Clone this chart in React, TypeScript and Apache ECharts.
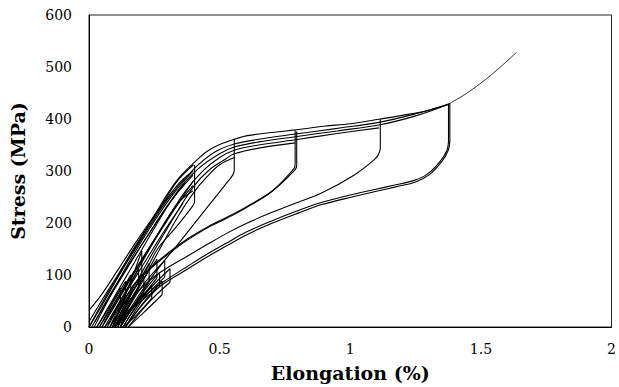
import React, { useEffect, useRef } from "react";
import * as echarts from "echarts";

// x = elongation (%), y = stress (MPa)
const xTicks = [0, 0.5, 1, 1.5, 2];
const yTicks = [0, 100, 200, 300, 400, 500, 600];

const envelope = [[0,32],[0.04,57],[0.076,83],[0.13,125],[0.19,171],[0.25,215],[0.303,258],[0.35,290],[0.404,317],[0.45,337],[0.5,351],[0.556,361],[0.606,368],[0.7,374],[0.79,379],[0.9,386],[1.0,391],[1.115,400],[1.2,407],[1.3,417],[1.381,430]];
const finalTail = [[1.381,430],[1.45,451],[1.54,485],[1.636,528]];
const firstLoad = [[0,0],[0.05,42],[0.1,86],[0.16,138],[0.22,188],[0.28,236],[0.34,282],[0.4,312]];

const reloadA = [[0,0],[0.06,55],[0.12,105],[0.2,168],[0.3,245],[0.4,303],[0.48,336],[0.556,352],[0.65,361],[0.79,371],[0.95,382],[1.115,394],[1.25,410],[1.38,429]];
const reloadB = [[0.03,0],[0.09,52],[0.16,112],[0.25,190],[0.34,262],[0.42,305],[0.5,333],[0.556,346],[0.65,356],[0.79,366],[0.95,377],[1.115,389],[1.25,406],[1.375,428]];
const reloadC = [[0.06,0],[0.13,60],[0.2,122],[0.29,200],[0.37,262],[0.44,302],[0.5,326],[0.556,340],[0.65,350],[0.79,360],[0.95,372],[1.11,383]];
const reloadD = [[0.08,0],[0.15,58],[0.23,130],[0.32,207],[0.4,270],[0.46,302],[0.52,322],[0.556,333],[0.65,344],[0.789,354]];
const reloadE = [[0.1,0],[0.18,65],[0.26,140],[0.34,212],[0.4,258],[0.45,288],[0.5,312],[0.556,326]];
const reloadF = [[0.01,0],[0.07,50],[0.14,108],[0.22,172],[0.31,240],[0.398,292]];
const reloadG = [[0.04,0],[0.1,48],[0.17,105],[0.25,168],[0.33,230],[0.398,272]];
const reloadH = [[0.02,0],[0.08,58],[0.15,122],[0.23,188],[0.32,254],[0.398,300]];
const reloadI = [[0.05,0],[0.11,50],[0.18,110],[0.26,176],[0.34,238],[0.398,262]];
const reloadJ = [[0,10],[0.05,52],[0.11,100],[0.18,158],[0.26,220],[0.34,274],[0.398,300]];
const reloadK = [[0.02,8],[0.08,62],[0.15,118],[0.22,172],[0.3,232],[0.37,280]];
const reloadL = [[0.06,10],[0.12,62],[0.19,118],[0.27,182],[0.35,244],[0.398,280]];
const reloadM = [[0.08,15],[0.14,65],[0.21,122],[0.29,186],[0.36,238]];

const unload02 = [[0.09,0],[0.14,62],[0.202,146],[0.202,102],[0.19,88],[0.15,51],[0.125,20],[0.11,0]];
const unload04 = [[0.404,311],[0.404,240],[0.396,232],[0.33,190],[0.265,152],[0.23,120],[0.2,90],[0.164,51],[0.13,15],[0.12,0]];
const unload055 = [[0.556,362],[0.556,300],[0.55,292],[0.53,279],[0.47,241],[0.4,197],[0.34,159],[0.278,121],[0.22,82],[0.17,45],[0.13,12],[0.12,0]];
const unload08a = [[0.789,378],[0.789,314],[0.785,305],[0.698,260],[0.6,229],[0.53,210],[0.45,190],[0.379,168],[0.316,145],[0.253,120],[0.2,96],[0.164,76],[0.12,38],[0.09,0]];
const unload08b = [[0.795,376],[0.795,312],[0.79,303],[0.703,262],[0.605,232],[0.535,213],[0.455,193],[0.385,172],[0.32,149],[0.258,124],[0.205,100],[0.17,80],[0.125,40],[0.095,0]];
const unload11 = [[1.115,400],[1.115,343],[1.108,332],[1.09,321],[1.014,292],[0.888,257],[0.8,240],[0.698,220],[0.606,200],[0.53,181],[0.45,158],[0.379,137],[0.3,114],[0.253,98],[0.2,75],[0.15,48],[0.1,0]];
const unload138a = [[1.381,430],[1.381,356],[1.375,340],[1.35,318],[1.3,292],[1.25,279],[1.178,270],[1.1,261],[1.014,251],[0.888,235],[0.8,219],[0.698,199],[0.606,178],[0.53,157],[0.45,134],[0.379,112],[0.3,88],[0.253,71],[0.19,46],[0.126,18],[0.1,4],[0.095,0]];
const unload138b = [[1.376,428],[1.376,356],[1.37,340],[1.345,319],[1.295,294],[1.245,282],[1.17,273],[1.09,264],[1.0,254],[0.88,238],[0.79,222],[0.69,202],[0.6,182],[0.525,161],[0.445,138],[0.375,116],[0.3,92],[0.25,75],[0.19,50],[0.13,22],[0.105,6],[0.1,0]];

const smallCycle1 = [[0.05,0],[0.1,48],[0.16,100],[0.16,68],[0.12,25],[0.1,0]];
const smallCycle2 = [[0.07,0],[0.13,55],[0.19,112],[0.19,76],[0.14,30],[0.11,0]];
const smallCycle3 = [[0.09,0],[0.16,62],[0.23,122],[0.23,86],[0.17,40],[0.12,0]];
const smallCycle4 = [[0.1,0],[0.18,70],[0.26,130],[0.26,94],[0.19,48],[0.13,0]];
const smallCycle5 = [[0.11,0],[0.2,76],[0.29,128],[0.29,96],[0.21,55],[0.14,0]];
const smallCycle6 = [[0.03,0],[0.08,40],[0.12,75],[0.12,50],[0.08,12],[0.06,0]];
const smallCycle7 = [[0.12,0],[0.2,62],[0.27,105],[0.27,78],[0.2,40],[0.14,0]];
const smallCycle8 = [[0.13,0],[0.22,66],[0.31,112],[0.31,86],[0.23,48],[0.15,0]];
const smallCycle9 = [[0.08,0],[0.14,50],[0.21,98],[0.21,66],[0.15,28],[0.1,0]];
const smallCycle10 = [[0.12,0],[0.18,45],[0.24,80],[0.24,55],[0.18,22],[0.13,0]];
const smallCycle11 = [[0.14,0],[0.21,48],[0.28,88],[0.28,62],[0.21,28],[0.15,0]];
const smallCycle12 = [[0.04,0],[0.09,45],[0.14,88],[0.14,60],[0.1,22],[0.08,0]];

const curves = [
  envelope, firstLoad, reloadA, reloadB, reloadC, reloadD, reloadE, reloadF, reloadG, reloadH, reloadI,
  reloadJ, reloadK, reloadL, reloadM,
  unload02, unload04, unload055, unload08a, unload08b, unload11, unload138a, unload138b,
  smallCycle1, smallCycle2, smallCycle3, smallCycle4, smallCycle5, smallCycle6,
  smallCycle7, smallCycle8, smallCycle9, smallCycle10, smallCycle11, smallCycle12,
];

const FONT = "'DejaVu Serif', 'Liberation Serif', serif";

// split a curve into straight vertical holds and smooth runs
function splitCurve(c: number[][]) {
  const parts: { pts: number[][]; smooth: boolean }[] = [];
  let run: number[][] = [c[0]];
  for (let i = 1; i < c.length; i++) {
    const prev = c[i - 1];
    const cur = c[i];
    if (cur[0] === prev[0]) {
      if (run.length > 1) parts.push({ pts: run, smooth: true });
      parts.push({ pts: [prev, cur], smooth: false });
      run = [cur];
    } else {
      run.push(cur);
    }
  }
  if (run.length > 1) parts.push({ pts: run, smooth: true });
  return parts;
}

export default function App() {
  const ref = useRef<HTMLDivElement>(null);
  useEffect(() => {
    if (!ref.current) return;
    const chart = echarts.init(ref.current, undefined, { renderer: "svg" });
    const series: any[] = [];
    curves.forEach((c) => {
      splitCurve(c).forEach((p) => {
        series.push({
          type: "line",
          data: p.pts,
          showSymbol: false,
          symbol: "none",
          silent: true,
          smooth: p.smooth ? 0.35 : false,
          lineStyle: { color: "#000", width: 1.1 },
        });
      });
    });
    series.push({
      type: "line",
      data: finalTail,
      showSymbol: false,
      symbol: "none",
      silent: true,
      smooth: 0.35,
      lineStyle: { color: "#000", width: 0.8 },
    });
    chart.setOption({
      animation: false,
      backgroundColor: "#fff",
      grid: { left: 89, top: 15, width: 528, height: 315, show: true, borderColor: "#222", borderWidth: 1 },
      xAxis: {
        type: "value",
        min: xTicks[0],
        max: xTicks[xTicks.length - 1],
        interval: 0.5,
        axisLine: { show: true, lineStyle: { color: "#000", width: 1 } },
        axisTick: { show: false },
        splitLine: { show: false },
        axisLabel: { color: "#000", fontFamily: FONT, fontSize: 14, margin: 15 },
        name: "Elongation (%)",
        nameLocation: "middle",
        nameGap: 36,
        nameTextStyle: { color: "#000", fontFamily: FONT, fontSize: 19, fontWeight: "bold" },
      },
      yAxis: {
        type: "value",
        min: yTicks[0],
        max: yTicks[yTicks.length - 1],
        interval: 100,
        axisLine: { show: true, lineStyle: { color: "#000", width: 1 } },
        axisTick: { show: false },
        splitLine: { show: false },
        axisLabel: { color: "#000", fontFamily: FONT, fontSize: 14, margin: 17 },
        name: "Stress (MPa)",
        nameLocation: "middle",
        nameGap: 62,
        nameRotate: 90,
        nameTextStyle: { color: "#000", fontFamily: FONT, fontSize: 19, fontWeight: "bold" },
      },
      series,
    });
    return () => chart.dispose();
  }, []);
  return (
    <div
      ref={ref}
      style={{ position: "absolute", left: 0, top: 0, width: 619, height: 387, background: "#fff" }}
    />
  );
}
